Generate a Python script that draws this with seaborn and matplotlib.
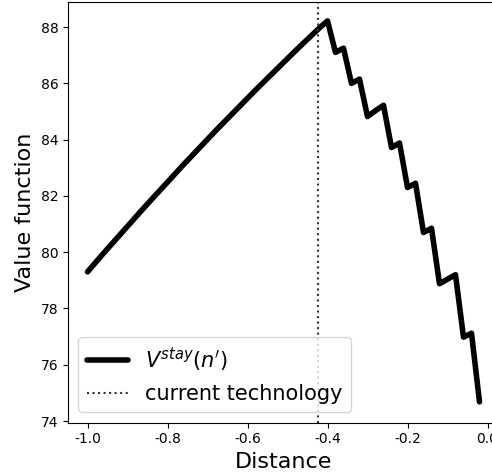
import matplotlib
matplotlib.use("Agg")
import matplotlib.pyplot as plt
import seaborn as sns
import pandas as pd

distance = [-1.00, -0.98, -0.96, -0.94, -0.92, -0.90, -0.88, -0.86, -0.84, -0.82,
            -0.80, -0.78, -0.76, -0.74, -0.72, -0.70, -0.68, -0.66, -0.64, -0.62,
            -0.60, -0.58, -0.56, -0.54, -0.52, -0.50, -0.48, -0.46, -0.44, -0.42,
            -0.40, -0.38, -0.36, -0.34, -0.32, -0.30, -0.28, -0.26, -0.24, -0.22,
            -0.20, -0.18, -0.16, -0.14, -0.12, -0.10, -0.08, -0.06, -0.04, -0.02]
value = [79.30, 79.63, 79.96, 80.28, 80.60, 80.92, 81.24, 81.56, 81.87, 82.18,
         82.49, 82.80, 83.11, 83.41, 83.71, 84.01, 84.31, 84.60, 84.89, 85.18,
         85.47, 85.76, 86.04, 86.32, 86.60, 86.88, 87.16, 87.43, 87.70, 87.97,
         88.22, 87.10, 87.25, 86.00, 86.15, 84.82, 85.03, 85.22, 83.72, 83.88,
         82.30, 82.45, 80.70, 80.85, 78.88, 79.04, 79.20, 76.98, 77.12, 74.68]
current_technology = -0.423
line_label = r"$V^{stay}(n')$"
vline_label = "current technology"

sns.set_style("ticks", {"xtick.major.size": 3.5, "ytick.major.size": 3.5,
                        "axes.edgecolor": "black", "xtick.color": "black",
                        "ytick.color": "black", "axes.labelcolor": "black",
                        "text.color": "black"})
plt.rcParams["font.family"] = ["DejaVu Sans"]
plt.rcParams["axes.unicode_minus"] = False

df = pd.DataFrame({"Distance": distance, "Value": value})

W, H = 492, 475
fig = plt.figure(figsize=(W / 100, H / 100), dpi=100)
left, right, top, bottom = 68, 499.5, 2.3, 422.7
ax = fig.add_axes([left / W, (H - bottom) / H, (right - left) / W, (bottom - top) / H])

sns.lineplot(data=df, x="Distance", y="Value", color="black", linewidth=4,
             label=line_label, ax=ax)
ax.axvline(current_technology, color="#333333", linestyle=":", linewidth=1.5,
           label=vline_label)

ax.set_xlim(-1.04875, 0.03)
ax.set_ylim(73.94, 88.88)
ax.set_xticks([-1.0, -0.8, -0.6, -0.4, -0.2, 0.0])
ax.set_yticks([74, 76, 78, 80, 82, 84, 86, 88])
ax.tick_params(labelsize=10)
ax.set_xlabel("Distance", fontsize=16)
ax.set_ylabel("Value function", fontsize=16)
ax.legend(loc="lower left", fontsize=15)

fig.savefig("out.png", dpi=100)
